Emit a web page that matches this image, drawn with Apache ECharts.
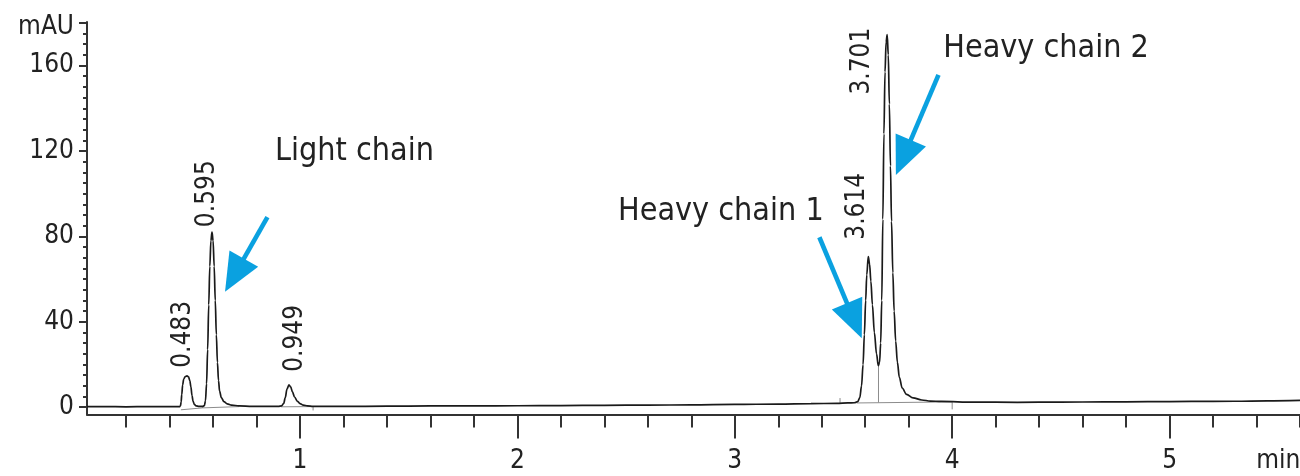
<!DOCTYPE html>
<html>
<head>
<meta charset="utf-8">
<title>mAU chromatogram</title>
<script src="https://cdn.jsdelivr.net/npm/echarts@6/dist/echarts.min.js"></script>
<style>
  html, body { margin: 0; padding: 0; background: #fff; }
  #chart { width: 1300px; height: 476px; }
</style>
</head>
<body>
<div id="chart"></div>
<script>
// ---- data -------------------------------------------------------------
// detector trace: [retention time (min), absorbance (mAU)]
const trace = [
  [0.02, 0.3], [0.10, 0.3], [0.20, 0.2], [0.30, 0.3], [0.40, 0.3], [0.445, 0.3],
  [0.450, 0.6], [0.453, 2.5], [0.456, 6], [0.460, 10.5], [0.465, 13.2], [0.472, 14.4],
  [0.480, 14.7], [0.487, 14.2], [0.493, 12.5], [0.498, 9.5], [0.503, 5.5], [0.508, 2.8],
  [0.514, 1.3], [0.522, 0.6], [0.535, 0.4], [0.552, 0.4],
  [0.560, 0.8], [0.565, 3], [0.570, 11], [0.575, 27], [0.580, 48], [0.585, 66],
  [0.590, 78], [0.595, 82], [0.600, 78], [0.605, 66], [0.610, 50], [0.615, 34],
  [0.620, 21], [0.625, 12.5], [0.630, 7.5], [0.638, 4.5], [0.650, 2.6], [0.665, 1.6],
  [0.685, 1.0], [0.72, 0.6], [0.78, 0.4], [0.85, 0.4], [0.90, 0.4],
  [0.915, 0.6], [0.925, 1.8], [0.932, 4.5], [0.940, 8.5], [0.949, 10.5], [0.957, 9.5],
  [0.965, 7.2], [0.975, 4.8], [0.987, 2.9], [1.000, 1.7], [1.015, 1.0], [1.035, 0.6],
  [1.06, 0.4], [1.2, 0.4], [1.4, 0.5], [1.6, 0.6], [1.8, 0.6], [2.0, 0.7], [2.2, 0.8],
  [2.4, 0.9], [2.6, 1.0], [2.8, 1.1], [3.0, 1.3], [3.2, 1.5], [3.35, 1.7], [3.47, 1.8],
  [3.52, 2.0], [3.55, 2.1],
  [3.565, 2.6], [3.575, 4.5], [3.583, 10], [3.590, 20], [3.596, 34], [3.602, 50],
  [3.607, 62], [3.614, 70.5], [3.620, 67], [3.626, 59], [3.633, 48], [3.642, 35],
  [3.652, 25], [3.660, 19.5],
  [3.666, 21], [3.671, 30], [3.676, 50], [3.681, 88], [3.686, 128], [3.691, 157],
  [3.696, 171], [3.701, 174.5], [3.706, 165], [3.711, 142], [3.716, 113], [3.721, 87],
  [3.727, 63], [3.733, 45], [3.740, 31], [3.748, 21], [3.757, 14], [3.770, 9],
  [3.790, 6], [3.820, 4.4], [3.860, 3.4], [3.90, 2.9], [3.95, 2.7],
  [4.1, 2.4], [4.3, 2.3], [4.5, 2.4], [4.7, 2.5], [4.9, 2.6], [5.1, 2.7], [5.3, 2.8],
  [5.45, 3.0], [5.6, 3.2]
];

// integration baselines, drop lines and event marks ('-' breaks the line)
const integration = [
  [0.452, -1.2], [0.552, -0.3], [0.552, 0.4], [0.552, '-'],
  [0.552, -0.3], [0.72, 0.3], [0.72, '-'],
  [0.912, 0.2], [1.06, 0.3], [1.06, -1.5], [1.06, '-'],
  [3.484, 1.8], [3.484, 4.3], [3.484, '-'],
  [3.56, 2.0], [4.0, 2.5], [4.0, -1.0], [4.0, '-'],
  [3.661, 2.2], [3.661, 19.5]
];

// integrated peaks: retention time (min) and apex height (mAU)
const peakTimes = [0.483, 0.595, 0.949, 3.614, 3.701];
const peakHeights = [14.7, 82, 10.5, 70.5, 174.5];

// axis ticks
const timeTickLabels = [1, 2, 3, 4, 5];
const timeMinorTicks = [0.2, 0.4, 0.6, 0.8, 1.2, 1.4, 1.6, 1.8, 2.2, 2.4, 2.6, 2.8,
  3.2, 3.4, 3.6, 3.8, 4.2, 4.4, 4.6, 4.8, 5.2, 5.4, 5.6];
const absTickLabels = [0, 40, 80, 120, 160];
const absMinorTicks = [5, 10, 15, 20, 25, 30, 35, 45, 50, 55, 60, 65, 70, 75, 85, 90,
  95, 100, 105, 110, 115, 125, 130, 135, 140, 145, 150, 155, 165, 170, 175];

// ---- chart ------------------------------------------------------------
const FONT = '"Liberation Sans Narrow", "DejaVu Sans Condensed", "Arial Narrow", sans-serif';
const INK = '#222222';
const AXIS = '#333333';
const BLUE = '#0aa1e0';
const TICK_FONT = 26;
const NOTE_FONT = 32;
const X_MIN = 0.02, X_MAX = 5.6;
const Y_MIN = -3.4, Y_MAX = 180.4;
const UNIT_POS_X = 5.5;   // slot for the "min" unit label
const UNIT_POS_Y = 180;   // slot for the "mAU" unit label

const chart = echarts.init(document.getElementById('chart'), null, { renderer: 'canvas' });

const option = {
  animation: false,
  backgroundColor: '#ffffff',
  grid: { left: 87, right: 0, top: 22, bottom: 61.5, containLabel: false, outerBoundsMode: 'none' },
  xAxis: [
    {
      type: 'value', min: X_MIN, max: X_MAX, position: 'bottom',
      axisLine: { show: true, onZero: false, lineStyle: { color: AXIS, width: 2 } },
      axisTick: { show: true, customValues: timeTickLabels, length: 24, lineStyle: { color: AXIS, width: 2 } },
      axisLabel: {
        customValues: timeTickLabels.concat([UNIT_POS_X]),
        formatter: v => (v === UNIT_POS_X ? 'min' : String(v)),
        margin: 34, fontSize: TICK_FONT, fontFamily: FONT, color: INK
      },
      splitLine: { show: false }
    },
    {
      type: 'value', min: X_MIN, max: X_MAX, position: 'bottom',
      axisLine: { show: false, onZero: false },
      axisTick: { show: true, customValues: timeMinorTicks, length: 13, lineStyle: { color: AXIS, width: 2 } },
      axisLabel: { show: false },
      splitLine: { show: false }
    }
  ],
  yAxis: [
    {
      type: 'value', min: Y_MIN, max: Y_MAX, position: 'left',
      axisLine: { show: true, onZero: false, lineStyle: { color: AXIS, width: 2 } },
      axisTick: { show: true, customValues: absTickLabels.concat([UNIT_POS_Y]), length: 8, lineStyle: { color: AXIS, width: 2 } },
      axisLabel: {
        customValues: absTickLabels.concat([UNIT_POS_Y]),
        formatter: v => (v === UNIT_POS_Y ? '{u|mAU}' : String(v)),
        margin: 13, fontSize: TICK_FONT, fontFamily: FONT, color: INK,
        rich: { u: { fontSize: TICK_FONT, fontFamily: FONT, color: INK, padding: [9, 0, 0, 0] } }
      },
      splitLine: { show: false }
    },
    {
      type: 'value', min: Y_MIN, max: Y_MAX, position: 'left',
      axisLine: { show: false, onZero: false },
      axisTick: { show: true, customValues: absMinorTicks, length: 4, lineStyle: { color: AXIS, width: 2 } },
      axisLabel: { show: false },
      splitLine: { show: false }
    }
  ],
  series: [
    {
      name: 'integration', type: 'line', xAxisIndex: 0, yAxisIndex: 0,
      data: integration, showSymbol: false, connectNulls: false,
      lineStyle: { color: '#8c8c8c', width: 1 }, silent: true, z: 1
    },
    {
      name: 'signal', type: 'line', xAxisIndex: 0, yAxisIndex: 0,
      data: trace, showSymbol: false, smooth: 0.35, smoothMonotone: 'x',
      lineStyle: { color: '#1a1a1a', width: 1.7 }, silent: true, z: 2
    }
  ]
};
chart.setOption(option);

// ---- annotations ------------------------------------------------------
const toPx = (t, v) => chart.convertToPixel({ xAxisIndex: 0, yAxisIndex: 0 }, [t, v]);

// retention-time labels, rotated; [dx, gap] nudges each label beside its apex
const rtLabelNudge = [[-4, 8], [-5, 5], [6, 13], [-11, 17], [-25, -60]];
const graphics = [];
peakTimes.forEach((rt, i) => {
  const p = toPx(rt, peakHeights[i]);
  const [dx, gap] = rtLabelNudge[i];
  graphics.push({
    type: 'text', x: p[0] + dx, y: p[1] - gap, rotation: Math.PI / 2, z: 10,
    style: {
      text: rt.toFixed(3), fontSize: TICK_FONT, fontFamily: FONT, fill: INK,
      align: 'left', verticalAlign: 'middle'
    }
  });
});

// callout arrows: tail and tip in data units
const callouts = [
  { text: 'Light chain',   at: [0.885, 119.7], tail: [0.850, 89.0],  tip: [0.655, 54.1] },
  { text: 'Heavy chain 1', at: [2.463, 91.6],  tail: [3.389, 79.6],  tip: [3.584, 32.3] },
  { text: 'Heavy chain 2', at: [3.959, 167.7], tail: [3.937, 155.6], tip: [3.741, 108.8] }
];
const HEAD_LEN = 38, HEAD_HALF = 16.5, SHAFT = 4.6;
callouts.forEach(c => {
  const a = toPx(c.at[0], c.at[1]);
  graphics.push({
    type: 'text', x: a[0], y: a[1], z: 10,
    style: { text: c.text, fontSize: NOTE_FONT, fontFamily: FONT, fill: INK, align: 'left', verticalAlign: 'middle' }
  });
  const s = toPx(c.tail[0], c.tail[1]);
  const e = toPx(c.tip[0], c.tip[1]);
  const dx = e[0] - s[0], dy = e[1] - s[1];
  const len = Math.hypot(dx, dy);
  const ux = dx / len, uy = dy / len;
  const bx = e[0] - ux * HEAD_LEN, by = e[1] - uy * HEAD_LEN;
  graphics.push({
    type: 'line', z: 10,
    shape: { x1: s[0], y1: s[1], x2: bx + ux * 2, y2: by + uy * 2 },
    style: { stroke: BLUE, lineWidth: SHAFT }
  });
  graphics.push({
    type: 'polygon', z: 10,
    shape: { points: [[e[0], e[1]], [bx - uy * HEAD_HALF, by + ux * HEAD_HALF], [bx + uy * HEAD_HALF, by - ux * HEAD_HALF]] },
    style: { fill: BLUE }
  });
});
chart.setOption({ graphic: graphics });
</script>
</body>
</html>
